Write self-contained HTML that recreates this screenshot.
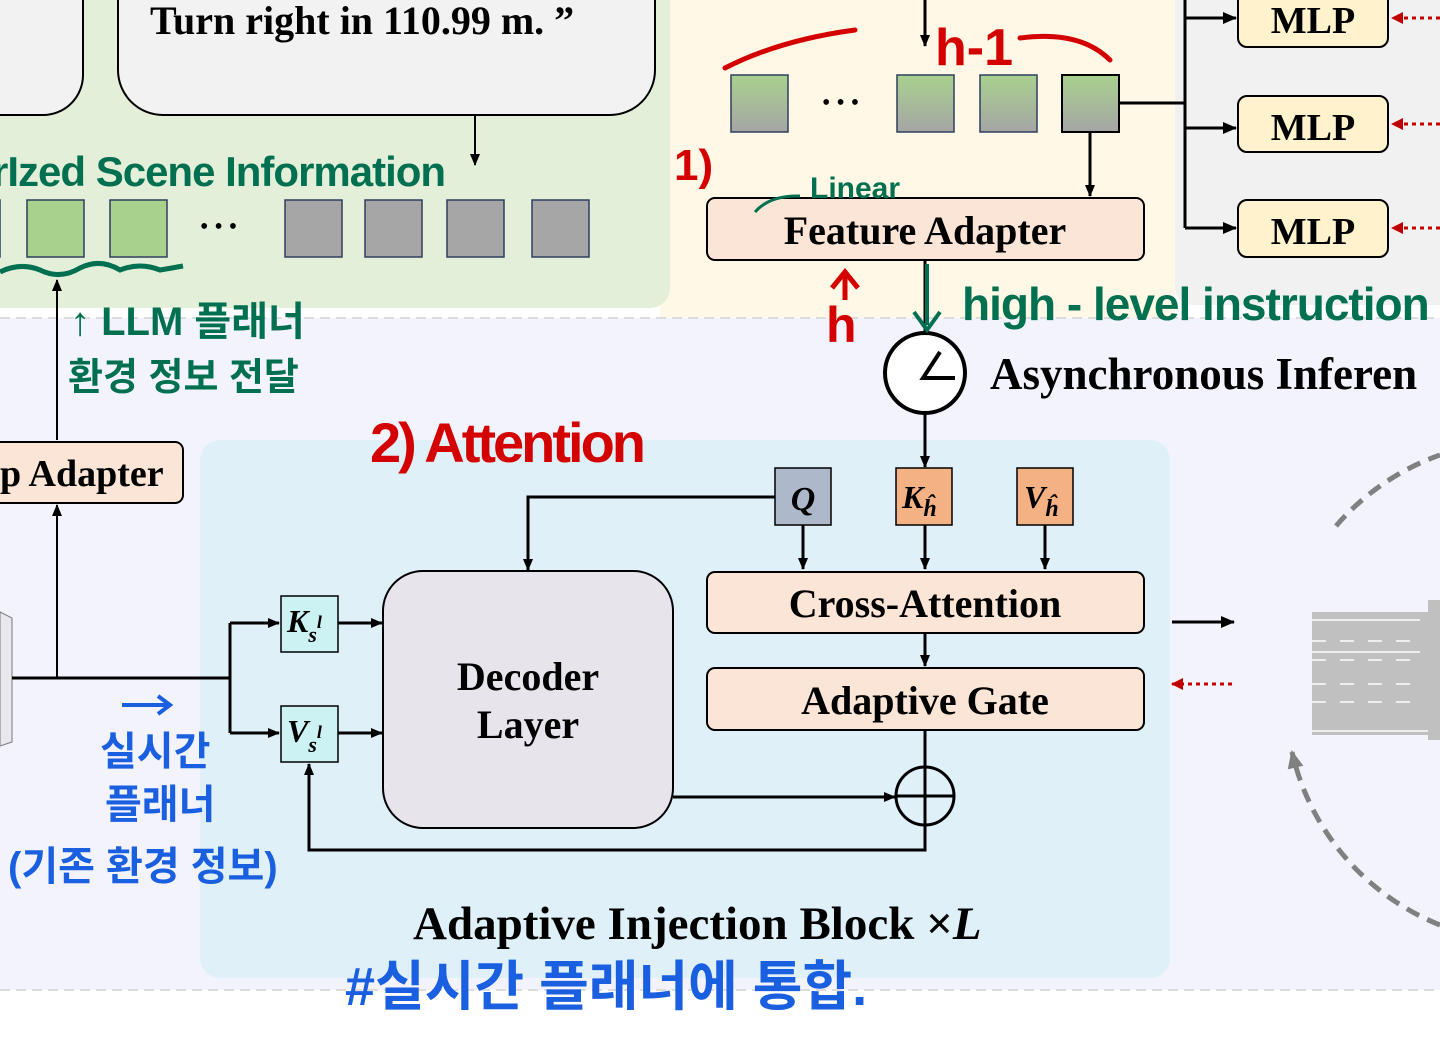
<!DOCTYPE html>
<html><head><meta charset="utf-8"><style>
html,body{margin:0;padding:0;background:#fff;}
svg{display:block;}
.b{font-family:"Liberation Serif",serif;font-weight:bold;fill:#000;}
.h{font-family:"Liberation Sans","Noto Sans CJK KR",sans-serif;font-weight:bold;}
</style></head><body>
<svg width="1440" height="1042" viewBox="0 0 1440 1042" xmlns="http://www.w3.org/2000/svg">
<defs>
<marker id="a" markerWidth="12" markerHeight="10" refX="11" refY="5" orient="auto" markerUnits="userSpaceOnUse"><path d="M0,0 L12,5 L0,10 Z" fill="#000"/></marker>
<marker id="a2" markerWidth="14" markerHeight="12" refX="13" refY="6" orient="auto" markerUnits="userSpaceOnUse"><path d="M0,0 L14,6 L0,12 Z" fill="#000"/></marker>
<marker id="r" markerWidth="12" markerHeight="12" refX="11" refY="6" orient="auto" markerUnits="userSpaceOnUse"><path d="M0,0 L12,6 L0,12 Z" fill="#c00000"/></marker>
<marker id="g" markerWidth="18" markerHeight="16" refX="16" refY="8" orient="auto" markerUnits="userSpaceOnUse"><path d="M0,0 L18,8 L0,16 Z" fill="#808080"/></marker>
<linearGradient id="tg" x1="0" y1="0" x2="0" y2="1"><stop offset="0" stop-color="#a9d18e"/><stop offset="1" stop-color="#a5a5a5"/></linearGradient>
</defs>
<rect x="0" y="318" width="1440" height="672" fill="#f3f3fd"/>
<rect x="660" y="0" width="515" height="318" fill="#fff8e6"/>
<rect x="1175" y="-30" width="290" height="335" rx="18" fill="#f1f1f1"/>
<rect x="-30" y="-30" width="700" height="338" rx="20" fill="#e3efd9"/>
<line x1="0" y1="318" x2="1440" y2="318" stroke="#dcdcdc" stroke-width="2" stroke-dasharray="10,6"/>
<line x1="0" y1="990" x2="1440" y2="990" stroke="#dcdcdc" stroke-width="2" stroke-dasharray="10,6"/>
<rect x="200" y="440" width="970" height="538" rx="20" fill="#dff0f8"/>

<rect x="-60" y="-60" width="143" height="175" rx="40" fill="#f2f2f2" stroke="#000" stroke-width="2"/>
<rect x="118" y="-60" width="537" height="175" rx="45" fill="#f2f2f2" stroke="#000" stroke-width="2"/>
<text x="150" y="34" class="b" font-size="40">Turn right in 110.99 m. ”</text>
<line x1="475" y1="115" x2="475" y2="165" stroke="#000" stroke-width="2" marker-end="url(#a)"/>
<g stroke="#2f3f5f" stroke-width="1.5">
<rect x="-30" y="200" width="30" height="57" fill="#a9d18e"/>
<rect x="27" y="200" width="57" height="57" fill="#a9d18e"/>
<rect x="110" y="200" width="57" height="57" fill="#a9d18e"/>
<rect x="285" y="200" width="57" height="57" fill="#a6a6a6"/>
<rect x="365" y="200" width="57" height="57" fill="#a6a6a6"/>
<rect x="447" y="200" width="57" height="57" fill="#a6a6a6"/>
<rect x="532" y="200" width="57" height="57" fill="#a6a6a6"/>
</g>
<text x="200" y="234" font-size="24" font-family="Liberation Serif">• • •</text>
<text x="-8" y="186" class="h" font-size="42" fill="#007050" letter-spacing="-1">rIzed Scene Information</text>
<path d="M0,272 Q20,262 40,270 Q60,280 80,268 Q100,258 120,270 Q140,262 160,270 Q172,268 183,266" fill="none" stroke="#007050" stroke-width="5"/>
<line x1="57" y1="440" x2="57" y2="280" stroke="#000" stroke-width="2" marker-end="url(#a)"/>
<text x="70" y="335" class="h" font-size="40" fill="#007050">↑ LLM 플래너</text>
<text x="68" y="390" class="h" font-size="38" fill="#007050">환경 정보 전달</text>
<rect x="-20" y="442" width="203" height="61" rx="8" fill="#fbe5d6" stroke="#000" stroke-width="2"/>
<text x="0" y="486" class="b" font-size="38">p Adapter</text>
<line x1="57" y1="678" x2="57" y2="505" stroke="#000" stroke-width="2" marker-end="url(#a)"/>
<path d="M0,612 L12,618 L12,742 L0,746 Z" fill="#e8e8ee" stroke="#777"/>

<path d="M12,678 H230 M230,623 V733" stroke="#000" stroke-width="3" fill="none"/>
<line x1="230" y1="623" x2="279" y2="623" stroke="#000" stroke-width="3" marker-end="url(#a)"/>
<line x1="230" y1="733" x2="279" y2="733" stroke="#000" stroke-width="3" marker-end="url(#a)"/>
<rect x="281" y="596" width="57" height="56" fill="#ccf2f4" stroke="#000" stroke-width="1.5"/>
<rect x="281" y="706" width="57" height="56" fill="#ccf2f4" stroke="#000" stroke-width="1.5"/>
<text x="287" y="632" class="b" font-size="32" font-style="italic">K<tspan font-size="22" dy="10">s</tspan><tspan font-size="18" dy="-14">l</tspan></text>
<text x="287" y="742" class="b" font-size="32" font-style="italic">V<tspan font-size="22" dy="10">s</tspan><tspan font-size="18" dy="-14">l</tspan></text>
<line x1="338" y1="623" x2="382" y2="623" stroke="#000" stroke-width="3" marker-end="url(#a)"/>
<line x1="338" y1="733" x2="382" y2="733" stroke="#000" stroke-width="3" marker-end="url(#a)"/>
<rect x="383" y="571" width="290" height="257" rx="40" fill="#e8e4ec" stroke="#000" stroke-width="2"/>
<text x="528" y="690" class="b" font-size="40" text-anchor="middle">Decoder</text>
<text x="528" y="738" class="b" font-size="40" text-anchor="middle">Layer</text>
<path d="M775,497 H528 V570" stroke="#000" stroke-width="3" fill="none" marker-end="url(#a)"/>
<rect x="775" y="468" width="56" height="57" fill="#adb9ca" stroke="#000" stroke-width="1.5"/>
<rect x="896" y="468" width="56" height="57" fill="#f4b183" stroke="#000" stroke-width="1.5"/>
<rect x="1017" y="468" width="56" height="57" fill="#f4b183" stroke="#000" stroke-width="1.5"/>
<text x="803" y="510" class="b" font-size="34" font-style="italic" text-anchor="middle">Q</text>
<text x="902" y="508" class="b" font-size="32" font-style="italic">K<tspan font-size="24" dy="8">ĥ</tspan></text>
<text x="1024" y="508" class="b" font-size="32" font-style="italic">V<tspan font-size="24" dy="8">ĥ</tspan></text>
<line x1="803" y1="525" x2="803" y2="569" stroke="#000" stroke-width="3" marker-end="url(#a)"/>
<line x1="925" y1="525" x2="925" y2="569" stroke="#000" stroke-width="3" marker-end="url(#a)"/>
<line x1="1045" y1="525" x2="1045" y2="569" stroke="#000" stroke-width="3" marker-end="url(#a)"/>
<rect x="707" y="572" width="437" height="61" rx="8" fill="#fbe5d6" stroke="#000" stroke-width="2"/>
<text x="925" y="617" class="b" font-size="40" text-anchor="middle">Cross-Attention</text>
<line x1="925" y1="633" x2="925" y2="666" stroke="#000" stroke-width="3" marker-end="url(#a)"/>
<rect x="707" y="668" width="437" height="62" rx="8" fill="#fbe5d6" stroke="#000" stroke-width="2"/>
<text x="925" y="714" class="b" font-size="40" text-anchor="middle">Adaptive Gate</text>
<line x1="925" y1="730" x2="925" y2="767" stroke="#000" stroke-width="3"/>
<circle cx="925" cy="796" r="29" fill="none" stroke="#000" stroke-width="3"/>
<path d="M896,796 H954 M925,767 V825" stroke="#000" stroke-width="3"/>
<line x1="673" y1="797" x2="895" y2="797" stroke="#000" stroke-width="3" marker-end="url(#a)"/>
<path d="M925,825 V850 H309 V764" stroke="#000" stroke-width="3" fill="none" marker-end="url(#a)"/>
<text x="413" y="939" class="b" font-size="47">Adaptive Injection Block ×<tspan font-style="italic">L</tspan></text>

<line x1="925" y1="260" x2="925" y2="333" stroke="#000" stroke-width="3"/>
<circle cx="925" cy="373" r="40" fill="#fff" stroke="#000" stroke-width="4"/>
<path d="M940,352 L923,378 H955" fill="none" stroke="#000" stroke-width="4"/>
<line x1="925" y1="413" x2="925" y2="467" stroke="#000" stroke-width="3" marker-end="url(#a)"/>
<text x="990" y="389" class="b" font-size="45">Asynchronous Inferen</text>

<line x1="925" y1="0" x2="925" y2="46" stroke="#000" stroke-width="3" marker-end="url(#a)"/>
<g stroke="#2f3f5f" stroke-width="1.5" fill="url(#tg)">
<rect x="731" y="75" width="57" height="57"/>
<rect x="897" y="75" width="57" height="57"/>
<rect x="980" y="75" width="57" height="57"/>
<rect x="1062" y="75" width="57" height="57" stroke="#000" stroke-width="2"/>
</g>
<text x="822" y="110" font-size="24" font-family="Liberation Serif">• • •</text>
<path d="M1119,103 H1185 M1185,-5 V228" stroke="#000" stroke-width="3" fill="none"/>
<line x1="1185" y1="18" x2="1236" y2="18" stroke="#000" stroke-width="3" marker-end="url(#a2)"/>
<line x1="1185" y1="128" x2="1236" y2="128" stroke="#000" stroke-width="3" marker-end="url(#a2)"/>
<line x1="1185" y1="228" x2="1236" y2="228" stroke="#000" stroke-width="3" marker-end="url(#a2)"/>
<line x1="1090" y1="132" x2="1090" y2="196" stroke="#000" stroke-width="3" marker-end="url(#a)"/>
<rect x="707" y="198" width="437" height="62" rx="8" fill="#fbe5d6" stroke="#000" stroke-width="2"/>
<text x="925" y="244" class="b" font-size="40" text-anchor="middle">Feature Adapter</text>
<g fill="#fff2cc" stroke="#000" stroke-width="2">
<rect x="1238" y="-12" width="150" height="59" rx="9"/>
<rect x="1238" y="96" width="150" height="56" rx="9"/>
<rect x="1238" y="200" width="150" height="57" rx="9"/>
</g>
<text x="1313" y="33" class="b" font-size="38" text-anchor="middle">MLP</text>
<text x="1313" y="140" class="b" font-size="38" text-anchor="middle">MLP</text>
<text x="1313" y="244" class="b" font-size="38" text-anchor="middle">MLP</text>
<g stroke="#c00000" stroke-width="3" stroke-dasharray="4,4">
<line x1="1440" y1="18" x2="1392" y2="18" marker-end="url(#r)"/>
<line x1="1440" y1="124" x2="1392" y2="124" marker-end="url(#r)"/>
<line x1="1440" y1="228" x2="1392" y2="228" marker-end="url(#r)"/>
<line x1="1232" y1="684" x2="1172" y2="684" marker-end="url(#r)"/>
</g>
<line x1="1172" y1="622" x2="1234" y2="622" stroke="#000" stroke-width="3" marker-end="url(#a2)"/>

<rect x="1312" y="612" width="128" height="123" fill="#c0c0c0"/>
<g stroke="#eee" stroke-width="2">
<line x1="1312" y1="620" x2="1420" y2="620"/><line x1="1312" y1="652" x2="1420" y2="652"/>
<line x1="1312" y1="731" x2="1440" y2="731"/>
</g>
<g stroke="#eee" stroke-width="2" stroke-dasharray="14,14">
<line x1="1312" y1="641" x2="1410" y2="641"/><line x1="1312" y1="660" x2="1410" y2="660"/>
<line x1="1312" y1="684" x2="1410" y2="684"/><line x1="1312" y1="702" x2="1410" y2="702"/>
</g>
<rect x="1428" y="600" width="12" height="140" fill="#c0c0c0"/>
<path d="M1336,526 A245,245 0 0 1 1440,455" fill="none" stroke="#808080" stroke-width="5" stroke-dasharray="14,9"/>
<path d="M1440,925 A245,245 0 0 1 1292,752" fill="none" stroke="#808080" stroke-width="5" stroke-dasharray="14,9" marker-end="url(#g)"/>

<text x="674" y="180" font-size="44" class="h" fill="#d40000">1)</text>
<text x="935" y="65" font-size="52" class="h" fill="#d40000">h-1</text>
<text x="826" y="342" font-size="50" class="h" fill="#d40000">h</text>
<text x="370" y="462" font-size="56" class="h" fill="#d40000" letter-spacing="-3">2) Attention</text>
<path d="M725,68 Q780,40 855,30" fill="none" stroke="#d40000" stroke-width="5" stroke-linecap="round"/>
<path d="M1020,38 Q1080,30 1110,60" fill="none" stroke="#d40000" stroke-width="5" stroke-linecap="round"/>
<path d="M845,300 V275 M832,288 L845,272 L858,288" fill="none" stroke="#d40000" stroke-width="5"/>

<text x="810" y="198" class="h" font-size="30" fill="#007050">Linear</text>
<path d="M755,212 Q770,195 800,196" fill="none" stroke="#007050" stroke-width="3"/>
<text x="962" y="320" class="h" font-size="46" fill="#007050" letter-spacing="-1">high - level instruction</text>
<line x1="927" y1="264" x2="927" y2="325" stroke="#007050" stroke-width="4"/>
<path d="M914,312 L927,330 L940,312" fill="none" stroke="#007050" stroke-width="4"/>

<path d="M122,705 H168 M158,696 L170,705 L158,714" fill="none" stroke="#1a5fe0" stroke-width="4"/>
<text x="100" y="765" class="h" font-size="40" fill="#1a5fe0">실시간</text>
<text x="105" y="818" class="h" font-size="40" fill="#1a5fe0">플래너</text>
<text x="8" y="880" class="h" font-size="40" fill="#1a5fe0">(기존 환경 정보)</text>
<text x="345" y="1005" class="h" font-size="54" fill="#1a5fe0">#실시간 플래너에 통합.</text>
</svg>
</body></html>
